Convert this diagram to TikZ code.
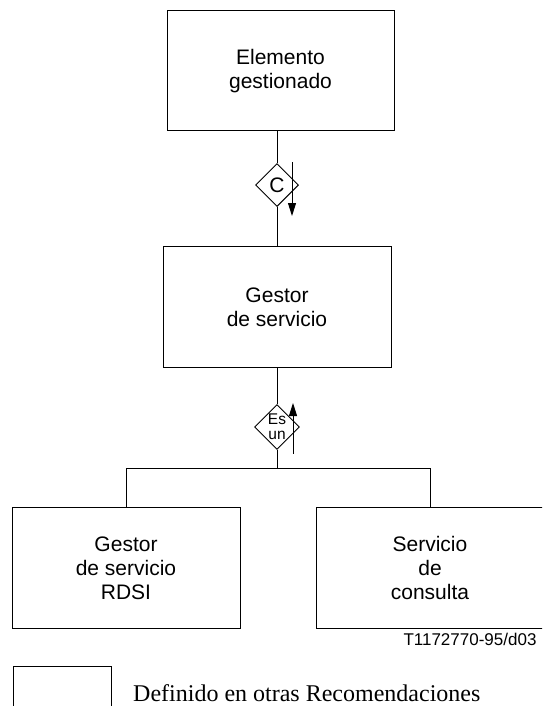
\documentclass[tikz,border=0pt]{standalone}
\usepackage{fontspec}
\setmainfont{Liberation Sans}
\newfontfamily\legendfont{Liberation Serif}
\usetikzlibrary{positioning,calc,shapes.geometric,arrows.meta}
\tikzstyle{entity} = [draw=black,
					  line width=1pt,
					  minimum width=228pt,
					  minimum height=121pt,
					  inner sep=0pt,
					  align=center,
					  font=\fontsize{21}{24}\selectfont]
\tikzstyle{relation} = [draw=black,
						line width=0.9pt,
						diamond,
						aspect=1,
						inner sep=0pt,
						align=center]
\tikzstyle{link} = [line width=1pt]
\tikzstyle{readdir} = [line width=0.9pt,
					   -{Triangle[length=13pt,width=8pt]}]

\begin{document}
\begin{tikzpicture}[x=1pt,y=-1pt]
	\useasboundingbox (0,0) rectangle (542,706);
	\clip (0,0) rectangle (542,706);

	%%%%%%%%%%%%
	% SPINE    %
	%%%%%%%%%%%%
	\node[entity] (gestor) at (277,307) {Gestor\\de servicio};
	\node[relation, minimum size=43pt, font=\fontsize{21}{22}\selectfont, above=39pt of gestor] (comp) {C};
	\node[entity, above=32pt of comp, xshift=3.5pt, minimum width=227pt, minimum height=120pt] (elem) {Elemento\\gestionado};
	\node[relation, minimum size=45pt, font=\fontsize{15.5}{15}\selectfont, below=36pt of gestor] (esun) {Es\\un};
	\coordinate[below=19pt of esun] (bus);

	%%%%%%%%%%%%
	% SUBTYPES %
	%%%%%%%%%%%%
	\node[entity, below=38.5pt of bus, xshift=-151pt] (rdsi) {Gestor\\de servicio\\RDSI};
	\node[entity, below=38.5pt of bus, xshift=153pt] (consulta) {Servicio\\de\\consulta};

	% connectors
	\draw[link] (comp.north) -- (comp.north |- elem.south);
	\draw[link] (comp.south) -- (gestor.north);
	\draw[link] (gestor.south) -- (esun.north);
	\draw[link] (esun.south) -- (bus);
	\draw[link] (rdsi.north) |- (bus) -| (consulta.north);

	% reading directions
	\coordinate (c1) at ($(comp.north)+(15,-1)$);
	\coordinate (c2) at ($(comp.south)+(15,9)$);
	\draw[readdir] (c1) -- (c2);
	\coordinate (e1) at ($(esun.south)+(16,4)$);
	\coordinate (e2) at ($(esun.north)+(16,-1)$);
	\draw[readdir] (e1) -- (e2);

	%%%%%%%%%%%%
	% LEGEND   %
	%%%%%%%%%%%%
	\node[anchor=base east, font=\fontsize{17}{19}\selectfont] (ref) at (540,645) {T1172770-95/d03};
	\node[draw=black, line width=1pt, anchor=north west, minimum width=98pt, minimum height=70pt, inner sep=0pt] (legbox) at (12.5,666) {};
	\node[anchor=base west, inner sep=0pt, font=\legendfont\fontsize{24}{26}\selectfont] (legtext) at (133,701) {Definido en otras Recomendaciones};

\end{tikzpicture}
\end{document}
